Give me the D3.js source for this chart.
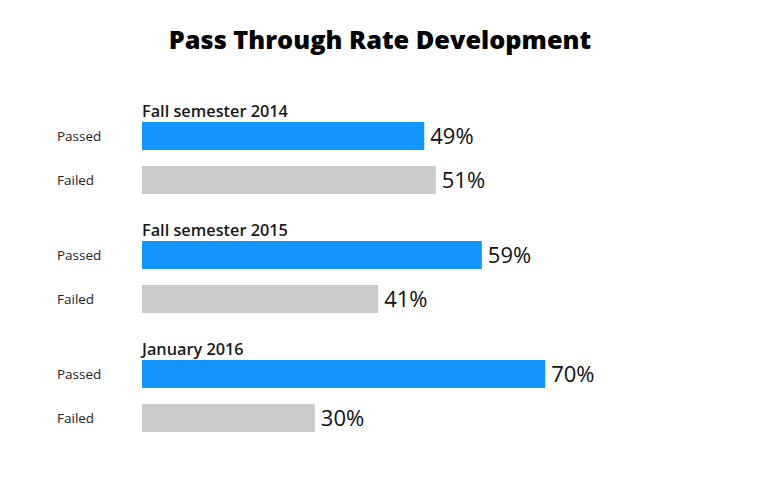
<!DOCTYPE html>
<html><head><meta charset="utf-8">
<script src="https://cdn.jsdelivr.net/npm/d3@7"></script>
<style>body{margin:0;background:#fff}svg{display:block}</style>
</head><body>
<svg id="c" width="768" height="480"></svg>
<script>
const groups = ["Fall semester 2014", "Fall semester 2015", "January 2016"];
const rows = ["Passed", "Failed"];
const passed = [49, 59, 70];
const failed = [51, 41, 30];
const title = "Pass Through Rate Development";

const colors = {Passed: "#1296fe", Failed: "#c9cacc"};
const svg = d3.select("#c");
const font = "'Open Sans', Lato, sans-serif";

const x = d3.scaleLinear().domain([0, 100]).range([142, 718]);
const gy = d3.scaleBand().domain(groups).range([122, 479]).padding(0);
const ry = d3.scaleBand().domain(rows).range([0, 72]).paddingInner(16/44).paddingOuter(0);

svg.append("text").attr("x", 380).attr("y", 49).attr("text-anchor", "middle")
  .attr("font-family", font).attr("font-weight", 800).attr("font-size", 25.3)
  .attr("fill", "#000").text(title);

const data = groups.map((g, i) => ({group: g, values: [{row: "Passed", v: passed[i]}, {row: "Failed", v: failed[i]}]}));

const gs = svg.selectAll("g.grp").data(data).join("g").attr("class", "grp")
  .attr("transform", d => `translate(0,${gy(d.group)})`);

gs.append("text").attr("x", 142).attr("y", -5.5)
  .attr("font-family", font).attr("font-weight", 600).attr("font-size", 16.3)
  .attr("fill", "#1a1a1a").text(d => d.group);

const r = gs.selectAll("g.row").data(d => d.values).join("g").attr("class", "row")
  .attr("transform", d => `translate(0,${ry(d.row)})`);

r.append("rect").attr("x", x(0)).attr("y", 0)
  .attr("width", d => x(d.v) - x(0)).attr("height", ry.bandwidth())
  .attr("fill", d => colors[d.row]);

r.append("text").attr("x", 57).attr("y", ry.bandwidth()/2 + 4.5)
  .attr("font-family", font).attr("font-size", 13.5).attr("fill", "#222")
  .text(d => d.row);

r.append("text").attr("x", d => x(d.v) + 6).attr("y", ry.bandwidth()/2 + 7.5)
  .attr("font-family", font).attr("font-size", 22).attr("fill", "#111")
  .text(d => d.v + "%");
</script>
</body></html>
